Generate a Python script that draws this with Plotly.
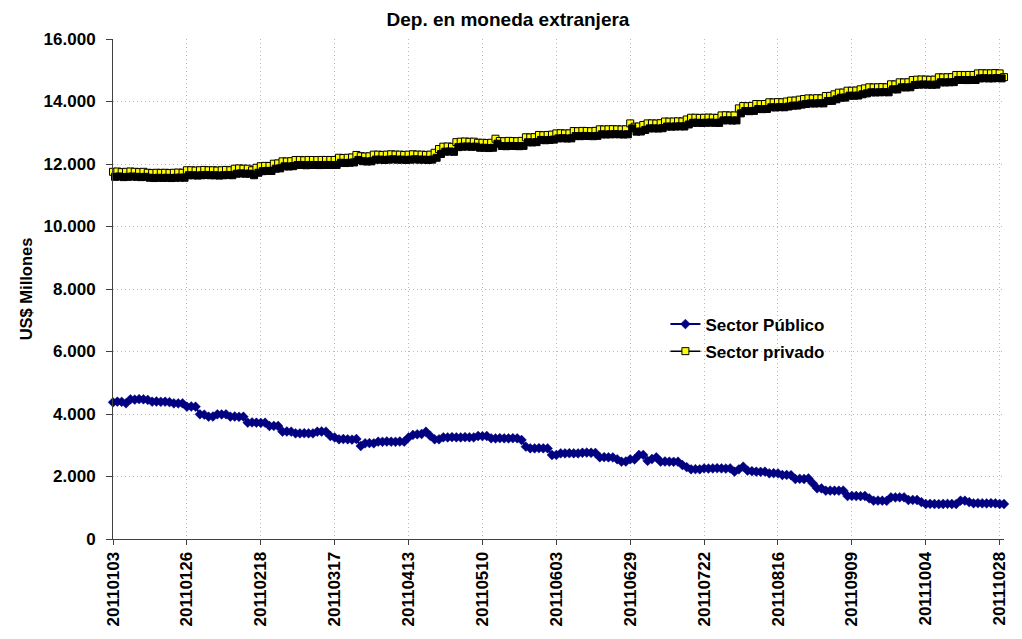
import pandas as pd
import plotly.graph_objects as go

# Argentine banking holidays (non-working days) in the period
holidays = ["2011-03-07", "2011-03-08", "2011-03-24", "2011-03-25", "2011-04-21",
            "2011-04-22", "2011-05-25", "2011-06-20", "2011-08-22", "2011-10-10"]
bdays = pd.bdate_range("2011-01-03", "2011-10-31")
dates = [d.strftime("%Y%m%d") for d in bdays if d.strftime("%Y-%m-%d") not in holidays]

publico = [
    4374, 4394, 4390, 4342, 4470, 4460, 4475, 4470, 4450, 4394,
    4400, 4390, 4394, 4380, 4342, 4340, 4342, 4234, 4240, 4234,
    3990, 3980, 3914, 3920, 3990, 3985, 3990, 3914, 3920, 3910,
    3914, 3722, 3730, 3722, 3715, 3722, 3616, 3620, 3616, 3434,
    3440, 3434, 3382, 3380, 3385, 3382, 3380, 3434, 3440, 3434,
    3296, 3250, 3190, 3200, 3190, 3180, 3200, 2976, 3062, 3070,
    3062, 3114, 3110, 3120, 3114, 3110, 3120, 3114, 3250, 3330,
    3350, 3360, 3434, 3300, 3190, 3190, 3254, 3250, 3260, 3254,
    3250, 3260, 3254, 3250, 3296, 3290, 3296, 3222, 3220, 3225,
    3222, 3220, 3225, 3222, 3168, 2954, 2902, 2900, 2905, 2902,
    2900, 2688, 2690, 2742, 2740, 2745, 2742, 2740, 2760, 2765,
    2760, 2755, 2614, 2620, 2614, 2610, 2550, 2474, 2480, 2550,
    2545, 2688, 2690, 2500, 2560, 2614, 2474, 2480, 2474, 2470,
    2474, 2368, 2300, 2230, 2235, 2230, 2260, 2255, 2260, 2265,
    2260, 2255, 2260, 2154, 2230, 2314, 2186, 2170, 2154, 2150,
    2155, 2102, 2105, 2100, 2048, 2050, 2040, 1920, 1925, 1920,
    1940, 1782, 1622, 1620, 1546, 1550, 1546, 1545, 1550, 1376,
    1380, 1376, 1370, 1376, 1300, 1226, 1230, 1226, 1220, 1334,
    1330, 1334, 1335, 1248, 1250, 1248, 1180, 1120, 1125, 1120,
    1115, 1120, 1125, 1120, 1118, 1226, 1226, 1180, 1142, 1145,
    1142, 1140, 1145, 1142, 1120, 1120,
]

privado = [
    11750, 11760, 11740, 11750, 11760, 11750, 11740, 11750, 11720, 11710,
    11720, 11715, 11720, 11710, 11720, 11725, 11720, 11800, 11800, 11790,
    11800, 11810, 11800, 11800, 11790, 11800, 11810, 11800, 11850, 11860,
    11850, 11850, 11800, 11880, 11930, 11940, 11936, 12010, 12020, 12085,
    12080, 12090, 12128, 12130, 12120, 12130, 12128, 12125, 12130, 12130,
    12128, 12130, 12200, 12190, 12200, 12210, 12290, 12250, 12240, 12245,
    12300, 12300, 12290, 12300, 12310, 12300, 12300, 12290, 12300, 12310,
    12300, 12300, 12290, 12300, 12360, 12480, 12555, 12560, 12550, 12700,
    12715, 12720, 12710, 12715, 12680, 12680, 12670, 12680, 12810, 12735,
    12730, 12740, 12735, 12730, 12740, 12855, 12850, 12860, 12930, 12920,
    12930, 12940, 12980, 12985, 12975, 12980, 13055, 13050, 13060, 13055,
    13050, 13060, 13110, 13105, 13110, 13115, 13110, 13105, 13110, 13300,
    13195, 13200, 13250, 13300, 13300, 13295, 13305, 13360, 13355, 13360,
    13365, 13360, 13425, 13480, 13480, 13475, 13480, 13485, 13480, 13475,
    13555, 13560, 13550, 13555, 13780, 13855, 13850, 13860, 13920, 13915,
    13920, 13975, 13970, 13980, 13975, 14000, 14028, 14030, 14060, 14080,
    14100, 14095, 14105, 14100, 14176, 14180, 14230, 14283, 14285, 14346,
    14345, 14350, 14390, 14420, 14454, 14450, 14455, 14460, 14454, 14550,
    14545, 14614, 14610, 14615, 14688, 14700, 14705, 14700, 14695, 14700,
    14774, 14770, 14775, 14780, 14848, 14850, 14845, 14850, 14848, 14900,
    14905, 14900, 14900, 14910, 14900, 14780,
]

title_text = "Dep. en moneda extranjera"
y_title = "US$ Millones"
y_ticks = [0, 2000, 4000, 6000, 8000, 10000, 12000, 14000, 16000]

n = len(dates)
idx = list(range(n))
tick_idx = idx[::17]
tick_txt = [dates[i] for i in tick_idx]

FONT = "Liberation Sans, Arial, sans-serif"
GRID = "#b8b8b8"

# page body has an 8px default margin -> figure is offset by 8px
W, H = 1014, 631

fig = go.Figure()

# shadow of the private-sector series (drawn on an offset overlay axis)
fig.add_trace(go.Scatter(
    x=idx, y=privado, xaxis="x2", yaxis="y2", mode="lines+markers",
    line=dict(color="black", width=1.5),
    marker=dict(symbol="square", size=7, color="black", line=dict(color="black", width=1)),
    showlegend=False, hoverinfo="skip", cliponaxis=False))

fig.add_trace(go.Scatter(
    x=idx, y=publico, name="Sector Público", mode="lines+markers",
    legendgroup="pub",
    line=dict(color="#000080", width=2),
    marker=dict(symbol="diamond", size=7.5, color="#000080", line=dict(color="#000080", width=0.5)),
    cliponaxis=False, customdata=dates))

fig.add_trace(go.Scatter(
    x=idx, y=privado, name="Sector privado", mode="lines+markers",
    legendgroup="priv",
    line=dict(color="black", width=1.5),
    marker=dict(symbol="square", size=7, color="#FFFF00", line=dict(color="black", width=1)),
    cliponaxis=False, customdata=dates))

px_per_pt = 891 / (n - 1)
val_per_px = 16000 / 500

fig.update_layout(
    width=W, height=H,
    margin=dict(l=105, r=18, t=31, b=100, autoexpand=False),
    paper_bgcolor="white", plot_bgcolor="white",
    separators=",.",
    font=dict(family=FONT, size=17, color="black", weight="bold"),
    title=dict(text="<b>" + title_text + "</b>", x=500 / W, xref="container", xanchor="center",
               y=1 - 11 / H, yref="container", yanchor="middle", automargin=False,
               font=dict(family=FONT, size=19, color="black")),
    xaxis=dict(
        range=[0, n - 1], tickmode="array", tickvals=tick_idx, ticktext=tick_txt,
        tickangle=-90, showline=True, linecolor="#404040", linewidth=1,
        ticks="outside", ticklen=5, tickcolor="#404040", automargin=False,
        showgrid=True, gridcolor=GRID, griddash="1px,3px", gridwidth=1,
        zeroline=False, tickfont=dict(family=FONT, size=17, color="black", weight="bold")),
    yaxis=dict(
        range=[0, 16000], tickmode="array", tickvals=y_ticks, tickformat=",d",
        showline=True, linecolor="#404040", linewidth=1, automargin=False,
        ticks="outside", ticklen=6, tickcolor="#404040",
        showgrid=True, gridcolor=GRID, griddash="1px,3px", gridwidth=1,
        zeroline=False, ticklabelstandoff=7,
        title=dict(text="<b>" + y_title + "</b>", standoff=6,
                   font=dict(family=FONT, size=16.5, color="black")),
        tickfont=dict(family=FONT, size=17, color="black", weight="bold")),
    xaxis2=dict(overlaying="x", range=[0 - 2 / px_per_pt, n - 1 - 2 / px_per_pt],
                visible=False),
    yaxis2=dict(overlaying="y", range=[0 + 5 * val_per_px, 16000 + 5 * val_per_px],
                visible=False),
    legend=dict(x=0.62, y=0.465, xanchor="left", yanchor="top",
                bgcolor="rgba(0,0,0,0)", tracegroupgap=2,
                font=dict(family=FONT, size=17, color="black", weight="bold")),
    showlegend=True,
)

fig.write_html("out.html")
